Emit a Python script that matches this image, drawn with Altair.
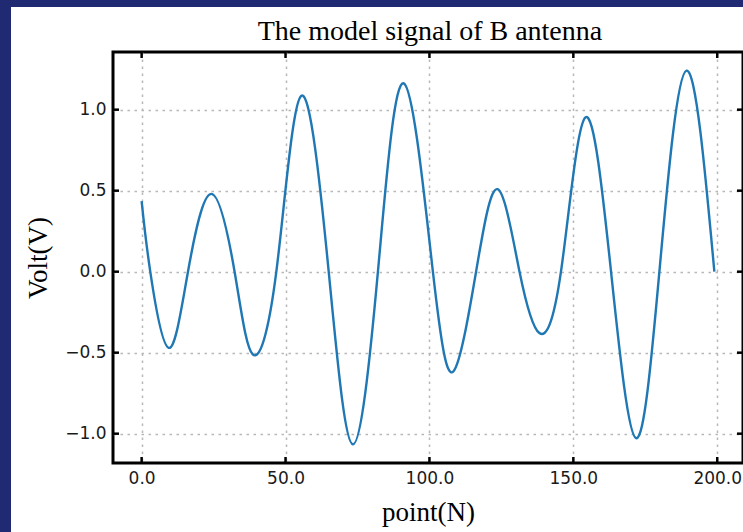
import altair as alt
import pandas as pd

# Signal: extrema and zero crossings
xs = [0, 3.0, 9.4, 16.1, 24.2, 32.3, 38.6, 46.8, 55.5, 65.0, 73.4, 82.1, 91.1,
      101.2, 108.3, 116.2, 123.7, 131.3, 138.2, 145.7, 154.2, 163.1, 171.8,
      179.9, 189.3, 199]
ys = [0.436, 0.0, -0.47, 0.0, 0.48, 0.0, -0.51, 0.0, 1.086, 0.0, -1.066, 0.0,
      1.162, 0.0, -0.616, 0.0, 0.509, 0.0, -0.379, 0.0, 0.952, 0.0, -1.028,
      0.0, 1.241, 0.0]

x_ticks = [0, 50, 100, 150, 200]
y_ticks = [-1.0, -0.5, 0.0, 0.5, 1.0]
title_text = "The model signal of B antenna"

W, H = 630, 411
PAD_L, PAD_T, PAD_B = 113, 52, 69
BLUE = "#1f2a72"

sig = pd.DataFrame({"x": xs, "y": ys})
xt = pd.DataFrame({"x": x_ticks})
yt = pd.DataFrame({"y": y_ticks})
one = pd.DataFrame({"t": [title_text]})

xscale = alt.Scale(domain=[-9.95, 208.95], nice=False, zero=False)
yscale = alt.Scale(domain=[-1.181, 1.356], nice=False, zero=False)

line = alt.Chart(sig).mark_line(color="#1f77b4", strokeWidth=2.4,
                                interpolate="natural").encode(
    x=alt.X("x:Q", scale=xscale,
            axis=alt.Axis(values=x_ticks, format=".1f", title="point(N)",
                          titleX=W / 2, titleY=57, titleBaseline="alphabetic")),
    y=alt.Y("y:Q", scale=yscale,
            axis=alt.Axis(values=y_ticks, format=".1f", title="Volt(V)",
                          titleX=-67, titleY=H / 2, titleAngle=270,
                          titleBaseline="alphabetic", titleAlign="center")),
)

tick_style = dict(color="black", strokeWidth=2.5)
bottom_ticks = alt.Chart(xt).mark_rule(**tick_style).encode(
    x=alt.X("x:Q", scale=xscale), y=alt.value(H), y2=alt.value(H - 6))
top_ticks = alt.Chart(xt).mark_rule(**tick_style).encode(
    x=alt.X("x:Q", scale=xscale), y=alt.value(0), y2=alt.value(6))
left_ticks = alt.Chart(yt).mark_rule(**tick_style).encode(
    y=alt.Y("y:Q", scale=yscale), x=alt.value(0), x2=alt.value(6))
right_ticks = alt.Chart(yt).mark_rule(**tick_style).encode(
    y=alt.Y("y:Q", scale=yscale), x=alt.value(W), x2=alt.value(W - 6))

left_strip = alt.Chart(one).mark_rect(color=BLUE).encode(
    x=alt.value(-PAD_L), x2=alt.value(-PAD_L + 11),
    y=alt.value(-PAD_T), y2=alt.value(H + PAD_B))
top_strip = alt.Chart(one).mark_rect(color=BLUE).encode(
    x=alt.value(-PAD_L), x2=alt.value(W),
    y=alt.value(-PAD_T), y2=alt.value(-PAD_T + 7))

title = alt.Chart(one).mark_text(
    font="Liberation Serif", fontSize=28, color="black",
    align="center", baseline="alphabetic").encode(
    text="t:N", x=alt.value(W / 2 + 2), y=alt.value(-12))

chart = alt.layer(
    left_strip, top_strip, line, bottom_ticks, top_ticks, left_ticks,
    right_ticks, title
).properties(
    width=W, height=H,
    autosize=alt.AutoSizeParams(type="none"),
    padding={"left": PAD_L, "top": PAD_T, "right": 0, "bottom": PAD_B},
    background="white",
).configure_view(
    stroke="black", strokeWidth=3, fill="white"
).configure_axis(
    domain=False, ticks=False, tickSize=0,
    grid=True, gridColor="#b8b8b8", gridDash=[2.5, 4.5], gridWidth=1.5,
    labelFont="DejaVu Sans", labelFontSize=17, labelColor="#1a1a1a", labelPadding=7,
    titleFont="Liberation Serif", titleFontSize=27, titleFontWeight="normal",
    titleColor="black",
)

chart.save("out.html", embed_options={"renderer": "svg", "actions": False})
